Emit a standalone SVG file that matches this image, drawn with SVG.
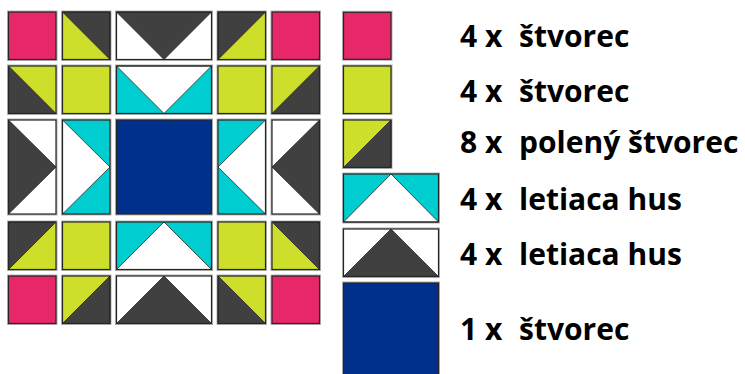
<svg xmlns="http://www.w3.org/2000/svg" width="745" height="374" viewBox="0 0 745 374">
<style>
.pk{fill:#E8266A}.lm{fill:#CDDF2A}.dk{fill:#404040}.cy{fill:#00CDD0}.nv{fill:#00308C}.wh{fill:#fff}
.halo{fill:none;stroke:#b4b4b4;stroke-width:3}
.edge{fill:none;stroke:#262626;stroke-width:1.2}
.seam{stroke:#262626;stroke-width:0.8;stroke-linejoin:miter}
text{font-family:"Open Sans","Liberation Sans",sans-serif;font-weight:700;font-size:30px;fill:#000}
</style>
<rect width="745" height="374" fill="#fff"/>
<g id="quilt">
<!-- row 1 -->
<g id="r1c1" transform="translate(8.5,12)"><rect class="halo" width="47.5" height="47.5"/><rect class="pk" width="47.5" height="47.5"/><rect class="edge" width="47.5" height="47.5"/></g>
<g id="r1c2" transform="translate(62.5,12)"><rect class="halo" width="47.5" height="47.5"/><rect class="lm" width="47.5" height="47.5"/><polygon class="dk seam" points="0,0 47.5,0 47.5,47.5"/><rect class="edge" width="47.5" height="47.5"/></g>
<g id="r1c3" transform="translate(116.5,12)"><rect class="halo" width="95" height="47.5"/><rect class="wh" width="95" height="47.5"/><polygon class="dk seam" points="0,0 95,0 47.5,47.5"/><rect class="edge" width="95" height="47.5"/></g>
<g id="r1c4" transform="translate(218,12)"><rect class="halo" width="47.5" height="47.5"/><rect class="lm" width="47.5" height="47.5"/><polygon class="dk seam" points="0,0 47.5,0 0,47.5"/><rect class="edge" width="47.5" height="47.5"/></g>
<g id="r1c5" transform="translate(272,12)"><rect class="halo" width="47.5" height="47.5"/><rect class="pk" width="47.5" height="47.5"/><rect class="edge" width="47.5" height="47.5"/></g>
<!-- row 2 -->
<g id="r2c1" transform="translate(8.5,66)"><rect class="halo" width="47.5" height="47.5"/><rect class="lm" width="47.5" height="47.5"/><polygon class="dk seam" points="0,0 0,47.5 47.5,47.5"/><rect class="edge" width="47.5" height="47.5"/></g>
<g id="r2c2" transform="translate(62.5,66)"><rect class="halo" width="47.5" height="47.5"/><rect class="lm" width="47.5" height="47.5"/><rect class="edge" width="47.5" height="47.5"/></g>
<g id="r2c3" transform="translate(116.5,66)"><rect class="halo" width="95" height="47.5"/><rect class="cy" width="95" height="47.5"/><polygon class="wh seam" points="0,0 95,0 47.5,47.5"/><rect class="edge" width="95" height="47.5"/></g>
<g id="r2c4" transform="translate(218,66)"><rect class="halo" width="47.5" height="47.5"/><rect class="lm" width="47.5" height="47.5"/><rect class="edge" width="47.5" height="47.5"/></g>
<g id="r2c5" transform="translate(272,66)"><rect class="halo" width="47.5" height="47.5"/><rect class="lm" width="47.5" height="47.5"/><polygon class="dk seam" points="47.5,0 47.5,47.5 0,47.5"/><rect class="edge" width="47.5" height="47.5"/></g>
<!-- row 3 -->
<g id="r3c1" transform="translate(8.5,120)"><rect class="halo" width="47.5" height="94"/><rect class="wh" width="47.5" height="94"/><polygon class="dk seam" points="0,0 47.5,47 0,94"/><rect class="edge" width="47.5" height="94"/></g>
<g id="r3c2" transform="translate(62.5,120)"><rect class="halo" width="47.5" height="94"/><rect class="cy" width="47.5" height="94"/><polygon class="wh seam" points="0,0 47.5,47 0,94"/><rect class="edge" width="47.5" height="94"/></g>
<g id="r3c3" transform="translate(116.5,120)"><rect class="halo" width="95" height="94"/><rect class="nv" width="95" height="94"/><rect class="edge" width="95" height="94"/></g>
<g id="r3c4" transform="translate(218,120)"><rect class="halo" width="47.5" height="94"/><rect class="cy" width="47.5" height="94"/><polygon class="wh seam" points="47.5,0 0,47 47.5,94"/><rect class="edge" width="47.5" height="94"/></g>
<g id="r3c5" transform="translate(272,120)"><rect class="halo" width="47.5" height="94"/><rect class="wh" width="47.5" height="94"/><polygon class="dk seam" points="47.5,0 0,47 47.5,94"/><rect class="edge" width="47.5" height="94"/></g>
<!-- row 4 -->
<g id="r4c1" transform="translate(8.5,222)"><rect class="halo" width="47.5" height="47.5"/><rect class="lm" width="47.5" height="47.5"/><polygon class="dk seam" points="0,0 47.5,0 0,47.5"/><rect class="edge" width="47.5" height="47.5"/></g>
<g id="r4c2" transform="translate(62.5,222)"><rect class="halo" width="47.5" height="47.5"/><rect class="lm" width="47.5" height="47.5"/><rect class="edge" width="47.5" height="47.5"/></g>
<g id="r4c3" transform="translate(116.5,222)"><rect class="halo" width="95" height="47.5"/><rect class="cy" width="95" height="47.5"/><polygon class="wh seam" points="0,47.5 47.5,0 95,47.5"/><rect class="edge" width="95" height="47.5"/></g>
<g id="r4c4" transform="translate(218,222)"><rect class="halo" width="47.5" height="47.5"/><rect class="lm" width="47.5" height="47.5"/><rect class="edge" width="47.5" height="47.5"/></g>
<g id="r4c5" transform="translate(272,222)"><rect class="halo" width="47.5" height="47.5"/><rect class="lm" width="47.5" height="47.5"/><polygon class="dk seam" points="0,0 47.5,0 47.5,47.5"/><rect class="edge" width="47.5" height="47.5"/></g>
<!-- row 5 -->
<g id="r5c1" transform="translate(8.5,276)"><rect class="halo" width="47.5" height="47.5"/><rect class="pk" width="47.5" height="47.5"/><rect class="edge" width="47.5" height="47.5"/></g>
<g id="r5c2" transform="translate(62.5,276)"><rect class="halo" width="47.5" height="47.5"/><rect class="lm" width="47.5" height="47.5"/><polygon class="dk seam" points="47.5,0 47.5,47.5 0,47.5"/><rect class="edge" width="47.5" height="47.5"/></g>
<g id="r5c3" transform="translate(116.5,276)"><rect class="halo" width="95" height="47.5"/><rect class="wh" width="95" height="47.5"/><polygon class="dk seam" points="0,47.5 47.5,0 95,47.5"/><rect class="edge" width="95" height="47.5"/></g>
<g id="r5c4" transform="translate(218,276)"><rect class="halo" width="47.5" height="47.5"/><rect class="lm" width="47.5" height="47.5"/><polygon class="dk seam" points="0,0 0,47.5 47.5,47.5"/><rect class="edge" width="47.5" height="47.5"/></g>
<g id="r5c5" transform="translate(272,276)"><rect class="halo" width="47.5" height="47.5"/><rect class="pk" width="47.5" height="47.5"/><rect class="edge" width="47.5" height="47.5"/></g>
</g>
<g id="legend">
<g id="leg1" transform="translate(343.5,12.3)"><rect class="halo" width="47.5" height="47"/><rect class="pk" width="47.5" height="47"/><rect class="edge" width="47.5" height="47"/></g>
<g id="leg2" transform="translate(343.5,66)"><rect class="halo" width="47.5" height="47.5"/><rect class="lm" width="47.5" height="47.5"/><rect class="edge" width="47.5" height="47.5"/></g>
<g id="leg3" transform="translate(343.5,120)"><rect class="halo" width="47.5" height="47.5"/><rect class="lm" width="47.5" height="47.5"/><polygon class="dk seam" points="47.5,0 47.5,47.5 0,47.5"/><rect class="edge" width="47.5" height="47.5"/></g>
<g id="leg4" transform="translate(343.5,174)"><rect class="halo" width="95" height="48"/><rect class="cy" width="95" height="48"/><polygon class="wh seam" points="0,48 47.5,0 95,48"/><rect class="edge" width="95" height="48"/></g>
<g id="leg5" transform="translate(343.5,229)"><rect class="halo" width="95" height="47.5"/><rect class="wh" width="95" height="47.5"/><polygon class="dk seam" points="0,47.5 47.5,0 95,47.5"/><rect class="edge" width="95" height="47.5"/></g>
<g id="leg6" transform="translate(343.5,283)"><rect class="halo" width="95" height="100"/><rect class="nv" width="95" height="100"/><rect class="edge" width="95" height="100"/></g>
</g>
<g id="labels">
<text x="460" y="47">4 x<tspan x="519">štvorec</tspan></text>
<text x="460" y="102">4 x<tspan x="519">štvorec</tspan></text>
<text x="460" y="153">8 x<tspan x="519">polený štvorec</tspan></text>
<text x="460" y="210">4 x<tspan x="519">letiaca hus</tspan></text>
<text x="460" y="265">4 x<tspan x="519">letiaca hus</tspan></text>
<text x="460" y="340">1 x<tspan x="519">štvorec</tspan></text>
</g>
</svg>
